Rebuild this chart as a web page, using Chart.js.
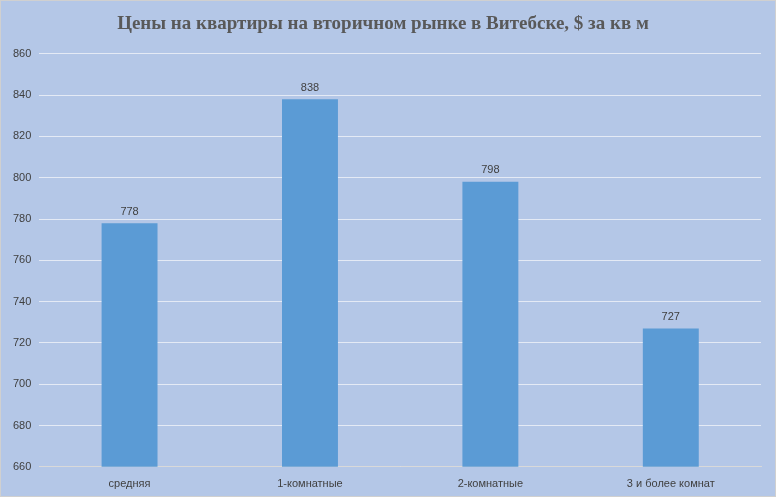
<!DOCTYPE html>
<html>
<head>
<meta charset="utf-8">
<script src="https://cdn.jsdelivr.net/npm/chart.js@4/dist/chart.umd.min.js"></script>
<style>
  html, body { margin: 0; padding: 0; background: #b4c7e7; }
  #wrap { width: 776px; height: 497px; position: relative; border: 1px solid #d0d0d0; box-sizing: border-box; }
</style>
</head>
<body>
<div id="wrap"><canvas id="barChart"></canvas></div>
<script>
// chart data
const categories = ['средняя', '1-комнатные', '2-комнатные', '3 и более комнат'];
const prices = [778, 838, 798, 727];
const yMin = 660;
const yMax = 860;
const yStep = 20;

// draw value above each bar
const valueLabels = {
	id: 'valueLabels',
	afterDatasetsDraw(chart)
	{
		const c = chart.ctx;
		const meta = chart.getDatasetMeta(0);
		c.save();
		c.fillStyle = '#404040';
		c.font = '11px "Liberation Sans", Arial, sans-serif';
		c.textAlign = 'center';
		c.textBaseline = 'bottom';
		meta.data.forEach((bar, i) => {
			c.fillText(prices[i], bar.x, bar.y - 6);
		});
		c.restore();
	}
};

const ctx = document.getElementById('barChart').getContext('2d');
const chart = new Chart(ctx, {
	type: 'bar',
	data: {
		labels: categories,
		datasets: [{
			data: prices,
			backgroundColor: '#5b9bd5',
			categoryPercentage: 1.0,
			barPercentage: 0.31
		}]
	},
	options: {
		responsive: true,
		maintainAspectRatio: false,
		animation: false,
		layout: { padding: { left: 4, right: 14, top: 4, bottom: 2 } },
		plugins: {
			legend: { display: false },
			tooltip: { enabled: false },
			title: {
				display: true,
				text: 'Цены на квартиры на вторичном рынке в Витебске, $ за кв м',
				color: '#595959',
				font: { family: '"Liberation Serif", "Times New Roman", serif', size: 19, weight: 'bold' },
				padding: { top: 8, bottom: 18 }
			}
		},
		scales: {
			x: {
				grid: { display: false },
				border: { color: '#d9d9d9' },
				ticks: { color: '#404040', font: { family: '"Liberation Sans", Arial, sans-serif', size: 11 } }
			},
			y: {
				min: yMin,
				max: yMax,
				ticks: { stepSize: yStep, color: '#404040', padding: 8, font: { family: '"Liberation Sans", Arial, sans-serif', size: 11 } },
				grid: { color: '#e4eaf5', drawTicks: false },
				border: { display: false }
			}
		}
	},
	plugins: [valueLabels]
});
</script>
</body>
</html>
